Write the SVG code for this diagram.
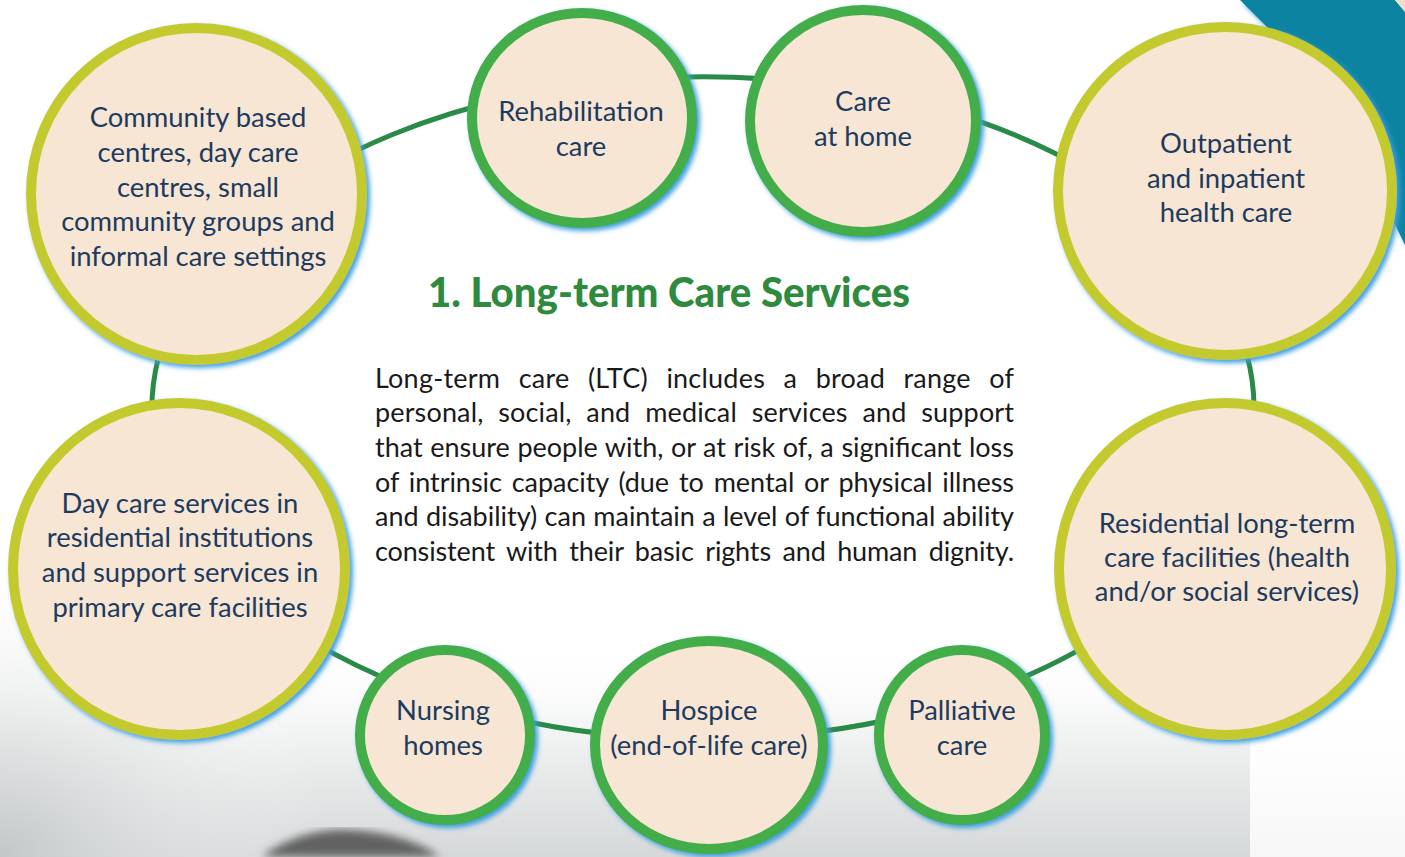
<svg xmlns="http://www.w3.org/2000/svg" width="1405" height="857" viewBox="0 0 1405 857">
<defs>
<style>
.big{fill:#f7e6d3;stroke:#c3ca2f;stroke-width:10}
.small{fill:#f7e6d3;stroke:#43ad4a;stroke-width:10}
.lbl{font-family:Lato,"Open Sans",sans-serif;font-size:27.4px;fill:#1d3a5f;text-anchor:middle}
.para{font-family:Lato,"Open Sans",sans-serif;font-size:27px;fill:#1a1a1a}
.title{font-family:Lato,"Open Sans",sans-serif;font-size:41px;font-weight:900;fill:#2e8b3e}
.conn{fill:none;stroke:#2a8a48;stroke-width:5}
</style>
<filter id="glow" x="-10%" y="-10%" width="125%" height="125%">
<feGaussianBlur in="SourceAlpha" stdDeviation="2.5"/>
<feOffset dx="3" dy="3" result="b"/>
<feFlood flood-color="#3c9fe0"/>
<feComposite in2="b" operator="in"/>
<feMerge><feMergeNode/><feMergeNode in="SourceGraphic"/></feMerge>
</filter>
<linearGradient id="bg" x1="0" y1="0" x2="0" y2="1">
<stop offset="0" stop-color="#ffffff" stop-opacity="0"/>
<stop offset="0.45" stop-color="#f1f2f2"/>
<stop offset="1" stop-color="#d5d8d9"/>
</linearGradient>
<radialGradient id="bgl" cx="0" cy="857" r="330" gradientUnits="userSpaceOnUse">
<stop offset="0" stop-color="#bfc3c4" stop-opacity="0.8"/>
<stop offset="1" stop-color="#ffffff" stop-opacity="0"/>
</radialGradient>
<linearGradient id="bgr" x1="0" y1="0" x2="0" y2="1">
<stop offset="0" stop-color="#ffffff" stop-opacity="0"/>
<stop offset="0.4" stop-color="#fdfdfd"/>
<stop offset="1" stop-color="#f7f7f7"/>
</linearGradient>
<filter id="blur"><feGaussianBlur stdDeviation="4"/></filter>
</defs>
<rect width="1405" height="857" fill="#ffffff"/>
<rect x="0" y="640" width="1250" height="217" fill="url(#bg)"/>
<rect x="0" y="520" width="340" height="337" fill="url(#bgl)"/>
<rect x="1250" y="700" width="155" height="157" fill="url(#bgr)"/>
<path d="M262,857 C285,838 320,828 350,830 C390,832 420,842 440,857 Z" fill="#626262" filter="url(#blur)"/>
<polygon points="1240,0 1395,0 1405,12 1405,245 1330,90" fill="#0783a2" filter="url(#glow)"/>
<polygon points="1395,0 1405,0 1405,12" fill="#f3dfc8"/>

<g id="connectors">
<path class="conn" d="M248.9,220.5 A551,331 0 0 1 581.0,85.2"/>
<path class="conn" d="M581.0,85.2 A551,331 0 0 1 863.2,91.3"/>
<path class="conn" d="M863.2,91.3 A551,331 0 0 1 1225.8,303.5"/>
<path class="conn" d="M1225.8,303.5 A551,331 0 0 1 1227.1,510.3"/>
<path class="conn" d="M1227.1,510.3 A551,331 0 0 1 962.5,700.0"/>
<path class="conn" d="M962.5,700.0 A551,331 0 0 1 708.8,739.0"/>
<path class="conn" d="M708.8,739.0 A551,331 0 0 1 444.3,700.2"/>
<path class="conn" d="M444.3,700.2 A551,331 0 0 1 178.1,508.6"/>
<path class="conn" d="M178.1,508.6 A551,331 0 0 1 248.9,220.5"/>
</g>

<g id="community">
<ellipse class="big" cx="196.5" cy="194" rx="165.5" ry="166" filter="url(#glow)"/>
<text class="lbl"><tspan x="198" y="127">Community based</tspan><tspan x="198" y="162">centres, day care</tspan><tspan x="198" y="197">centres, small</tspan><tspan x="198" y="231">community groups and</tspan><tspan x="198" y="266">informal care settings</tspan></text>
</g>
<g id="rehabilitation">
<ellipse class="small" cx="582" cy="118" rx="110" ry="105" filter="url(#glow)"/>
<text class="lbl"><tspan x="581" y="121">Rehabilitation</tspan><tspan x="581" y="156">care</tspan></text>
</g>
<g id="care-at-home">
<ellipse class="small" cx="863" cy="121" rx="113" ry="111" filter="url(#glow)"/>
<text class="lbl"><tspan x="863" y="111">Care</tspan><tspan x="863" y="146">at home</tspan></text>
</g>
<g id="outpatient">
<ellipse class="big" cx="1225" cy="191" rx="167" ry="164" filter="url(#glow)"/>
<text class="lbl"><tspan x="1226" y="153">Outpatient</tspan><tspan x="1226" y="188">and inpatient</tspan><tspan x="1226" y="222">health care</tspan></text>
</g>
<g id="residential">
<ellipse class="big" cx="1225" cy="569" rx="166" ry="166" filter="url(#glow)"/>
<text class="lbl"><tspan x="1227" y="533">Residential long-term</tspan><tspan x="1227" y="567">care facilities (health</tspan><tspan x="1227" y="601">and/or social services)</tspan></text>
</g>
<g id="palliative">
<ellipse class="small" cx="962" cy="735" rx="83" ry="85" filter="url(#glow)"/>
<text class="lbl"><tspan x="962" y="720">Palliative</tspan><tspan x="962" y="755">care</tspan></text>
</g>
<g id="hospice">
<ellipse class="small" cx="709" cy="745" rx="114" ry="104" filter="url(#glow)"/>
<text class="lbl"><tspan x="709" y="720">Hospice</tspan><tspan x="709" y="755">(end-of-life care)</tspan></text>
</g>
<g id="nursing">
<ellipse class="small" cx="445" cy="735" rx="85" ry="85" filter="url(#glow)"/>
<text class="lbl"><tspan x="443" y="720">Nursing</tspan><tspan x="443" y="755">homes</tspan></text>
</g>
<g id="day-care">
<ellipse class="big" cx="179" cy="569" rx="166" ry="166" filter="url(#glow)"/>
<text class="lbl"><tspan x="180" y="513">Day care services in</tspan><tspan x="180" y="547">residential institutions</tspan><tspan x="180" y="582">and support services in</tspan><tspan x="180" y="617">primary care facilities</tspan></text>
</g>

<g id="center-text">
<text class="title" x="428" y="307" textLength="482" lengthAdjust="spacingAndGlyphs">1. Long-term Care Services</text>
<text class="para" x="375" y="388" word-spacing="11.4" textLength="639" lengthAdjust="spacing">Long-term care (LTC) includes a broad range of</text>
<text class="para" x="375" y="422" word-spacing="7.7" textLength="639" lengthAdjust="spacing">personal, social, and medical services and support</text>
<text class="para" x="375" y="457" word-spacing="0.7" textLength="639" lengthAdjust="spacing">that ensure people with, or at risk of, a significant loss</text>
<text class="para" x="375" y="492" word-spacing="3" textLength="639" lengthAdjust="spacing">of intrinsic capacity (due to mental or physical illness</text>
<text class="para" x="375" y="526" word-spacing="0.4" textLength="639" lengthAdjust="spacing">and disability) can maintain a level of functional ability</text>
<text class="para" x="375" y="561" word-spacing="4.7" textLength="639" lengthAdjust="spacing">consistent with their basic rights and human dignity.</text>
</g>
</svg>
